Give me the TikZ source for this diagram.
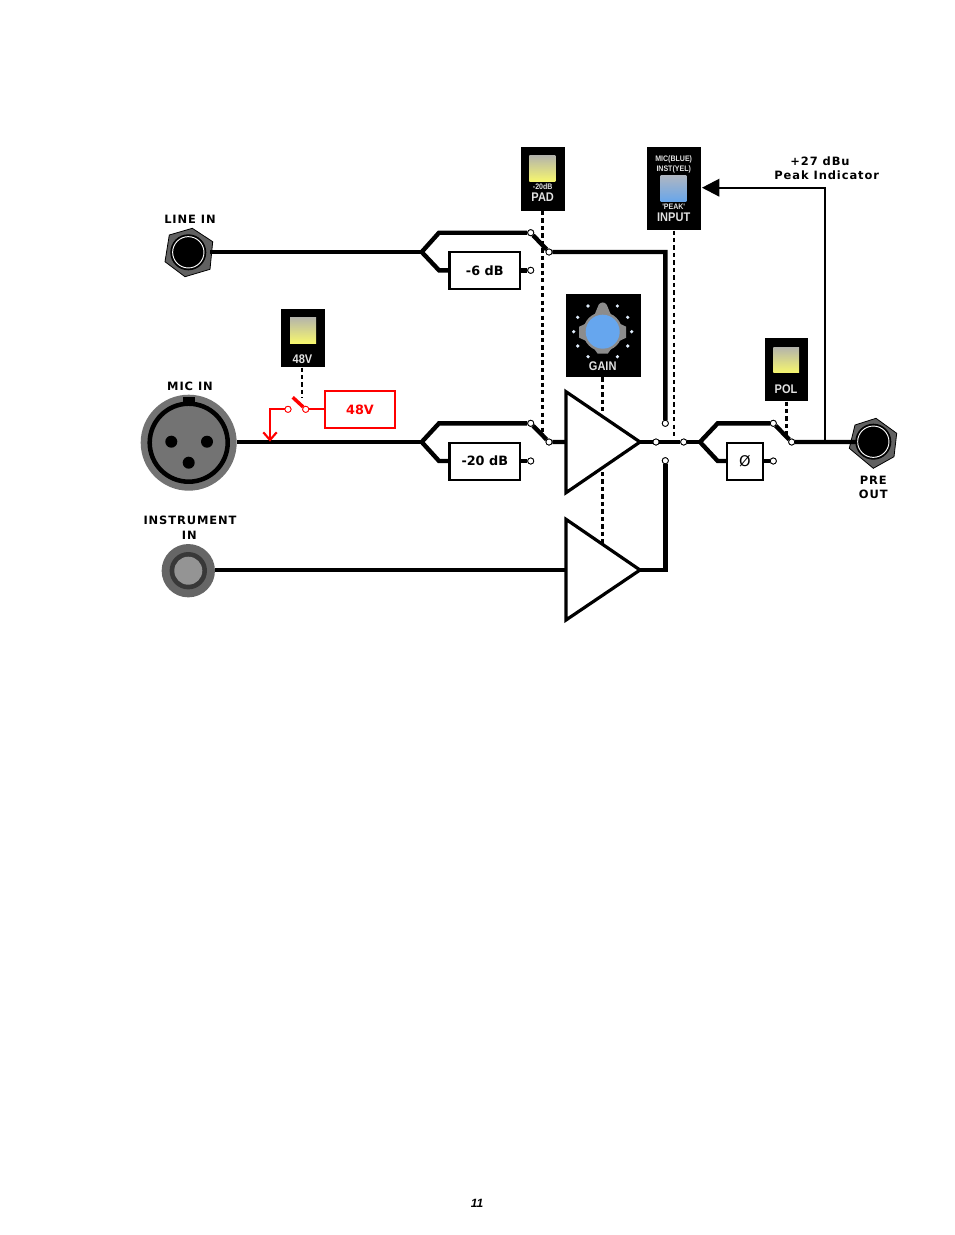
\documentclass[tikz,border=0pt]{standalone}
\usepackage{fontspec}
\setmainfont{DejaVu Sans}
\newfontfamily\lblf[LetterSpace=8]{DejaVu Sans}
\newfontfamily\panelf[FakeStretch=0.88]{Liberation Sans}
\newfontfamily\pagef{Liberation Sans}
\definecolor{lampY}{HTML}{F6F66E}
\definecolor{lampT}{HTML}{B4B4AC}
\definecolor{lampB}{HTML}{69A6EA}
\definecolor{lampBT}{HTML}{AEB6C2}
\definecolor{knob}{HTML}{66A6EE}
\definecolor{panelgray}{HTML}{E2E2E2}
\tikzset{
  x=0.75pt,y=-0.75pt,
  main/.style={line width=3.3pt,line join=miter},
  thinw/.style={line width=1.7pt},
  ctrl/.style={line width=2pt,dash pattern=on 3.2pt off 2.4pt},
  red wire/.style={red,line width=1.6pt},
  dotc/.style={circle,draw=black,fill=white,line width=0.6pt,inner sep=0pt,minimum size=4.6pt},
  reddot/.style={dotc,draw=red},
  fxbox/.style={draw=black,line width=1.7pt,fill=white,inner sep=0pt,outer sep=0pt,anchor=north west,
     font=\fontsize{9.6pt}{9.6pt}\selectfont\bfseries},
  lbl/.style={inner sep=0pt,font=\lblf\fontsize{8.6pt}{8.6pt}\selectfont\bfseries},
  paneltxt/.style={inner sep=0pt,text=panelgray,font=\panelf\fontsize{9.4pt}{9.4pt}\selectfont\bfseries},
  paneltiny/.style={inner sep=0pt,text=panelgray,font=\panelf\bfseries\fontsize{6pt}{6pt}\selectfont},
  tri/.style={draw=black,line width=2.4pt,fill=white,line join=miter},
}
\begin{document}
\begin{tikzpicture}
\useasboundingbox (0,0) rectangle (954,1235);

% ---- control panels ----
\fill[black] (520.7,147) rectangle (564.7,210.7);
\shade[top color=lampT,bottom color=lampY] (529.3,155.3) rectangle (555.3,181.3);
\node[paneltiny] at (542.7,187) {-20dB};
\node[paneltxt] (padlbl) at (542.7,197.3) {PAD};
\coordinate (padbot) at (542.7,211);

\fill[black] (646.7,147) rectangle (701.3,230.3);
\shade[top color=lampBT,bottom color=lampB] (660.7,175.7) rectangle (686.3,201);
\node[paneltiny] at (673.7,159.7) {MIC(BLUE)};
\node[paneltiny] at (673.7,169.7) {INST(YEL)};
\node[paneltiny] at (673.7,206.6) {'PEAK'};
\node[paneltxt] at (673.7,217) {INPUT};
\coordinate (inbot) at (674,230.5);
\coordinate (inright) at (702,187.7);

\fill[black] (281.3,309) rectangle (325.3,367.3);
\shade[top color=lampT,bottom color=lampY] (290,317) rectangle (316,343);
\node[paneltxt] at (302.5,359) {48V};
\coordinate (v48bot) at (302,367.5);

\fill[black] (764.7,337.7) rectangle (808.3,401.3);
\shade[top color=lampT,bottom color=lampY] (773.3,347) rectangle (799,372.7);
\node[paneltxt] at (786,389) {POL};
\coordinate (polbot) at (786.7,401.5);

% gain panel
\fill[black] (566,294.3) rectangle (640.7,377);
\begin{scope}[shift={(602.7,331.7)}]
  \fill[black!45] (0,0) circle[radius=19.5];
  \fill[black!45] (-9,-15) -- (-4,-27) .. controls (-2,-30) and (2,-30) .. (4,-27) -- (9,-15) -- cycle;
  \fill[black!45] (-15,-9) -- (-23.5,-5) -- (-23.5,6) -- (-15,10) -- cycle;
  \fill[black!45] (15,-9) -- (23.5,-5) -- (23.5,6) -- (15,10) -- cycle;
  \fill[black!45] (-10,15) -- (-5,22) -- (5,22) -- (10,15) -- cycle;
  \fill[knob] (0,0) circle[radius=17];
  \foreach \dx/\dy in {-14.7/-25.7,14.7/-25.7,-25/-14.4,25/-14.4,-29/0,29/0,-25/14.3,25/14.3,-14.7/25,14.7/25}
    \fill[white!80!knob] (\dx,\dy) circle[radius=1.8];
\end{scope}
\node[paneltxt] at (602.7,366) {GAIN};
\coordinate (gainbot) at (602.3,377.3);

% ---- junction coordinates ----
\coordinate (lb) at (421.7,252);
\coordinate (lt) at (439,232.7);
\coordinate (ld) at (439,270.3);
\coordinate (mb) at (421.7,442);
\coordinate (mt) at (439,423.3);
\coordinate (md) at (439,461);
\coordinate (pb) at (700,442);
\coordinate (pt) at (717.7,423.3);
\coordinate (pd) at (717.7,461);
\coordinate (peakT) at (825,442);
\coordinate (peakC) at (825,187.7);

% ---- amplifiers ----
\coordinate (a1a) at (566,391.7);
\coordinate (a1b) at (566,492.7);
\coordinate (a1o) at (640,442);
\coordinate (a2a) at (566,519.3);
\coordinate (a2b) at (566,620);
\coordinate (a2o) at (640,570);
\coordinate (a1in) at (566,442);
\coordinate (a2in) at (566,570);

% ---- control dashed lines ----
\coordinate (paden) at (542.7,431.7);
\coordinate (inen) at (674,438);
\coordinate (polen) at (786.7,436);
\coordinate (g1) at (602.3,412);
\coordinate (g2) at (602.3,544);
\draw[ctrl] (padbot) -- (paden);
\draw[ctrl] (inbot) -- (inen);
\draw[ctrl] (polbot) -- (polen);
\draw[tri] (a1a) -- (a1o) -- (a1b) -- cycle;
\draw[tri] (a2a) -- (a2o) -- (a2b) -- cycle;
\draw[ctrl] (gainbot) -- (g1);
\draw[ctrl] (602.3,472) -- (g2);

% ---- fx boxes ----
\node[fxbox,minimum width=52.9pt,minimum height=27.7pt] (b6) at (449.5,252.3) {-6 dB};
\node[fxbox,minimum width=52.9pt,minimum height=27.7pt] (b20) at (449.5,442.7) {-20 dB};
\node[fxbox,minimum width=26.5pt,minimum height=27.7pt,font=\fontsize{11pt}{11pt}\selectfont] (bp) at (727.3,442.7) {Ø};

% ---- contacts ----
\node[dotc] (lc1) at (530.7,232.7) {};
\node[dotc] (lc2) at (530.7,270.3) {};
\node[dotc] (lc3) at (549,252) {};
\node[dotc] (mc1) at (530.7,423.3) {};
\node[dotc] (mc2) at (530.7,461) {};
\node[dotc] (mc3) at (549,442) {};
\node[dotc] (sc1) at (665.3,423.3) {};
\node[dotc] (sc2) at (665.3,460.7) {};
\node[dotc] (sc3) at (656,442) {};
\node[dotc] (sc4) at (683.7,442) {};
\node[dotc] (pc1) at (773.3,423.3) {};
\node[dotc] (pc2) at (773.3,461) {};
\node[dotc] (pc3) at (791.7,442) {};

% ---- jacks ----
\fill[black!62,draw=black,line width=0.6pt] (192.3,228.3) -- (212.7,241.7) -- (210,269.3) -- (185,276.7) -- (165,261.7) -- (169.3,235) -- cycle;
\fill[black] (188.3,252.3) circle[radius=18];
\node[circle,fill=black,draw=white,line width=0.7pt,minimum size=23.5pt,inner sep=0pt] (linej) at (188.3,252.3) {};

\fill[black!62,draw=black,line width=0.6pt] (876,418.3) -- (896.7,433.3) -- (894,456.7) -- (873.3,468.3) -- (849.3,448.3) -- (855,425) -- cycle;
\fill[black] (873.3,441.7) circle[radius=18];
\node[circle,fill=black,draw=white,line width=0.7pt,minimum size=23.5pt,inner sep=0pt] (outj) at (873.3,441.7) {};

\node[circle,fill=black!55,minimum size=72pt,inner sep=0pt] (micj) at (188.7,442.7) {};
\draw[black,line width=3.4pt] (188.7,442.7) circle[radius=39];
\fill[black] (182.7,396.7) rectangle (194.7,406);
\foreach \px/\py in {171.3/441.7,207/441.7,188.7/462.7}
  \fill[black] (\px,\py) circle[radius=6];

\node[circle,fill=black!60,minimum size=40pt,inner sep=0pt] (instj) at (188.3,570.7) {};
\fill[black!78] (188.3,570.7) circle[radius=18.7];
\fill[black!42] (188.3,570.7) circle[radius=14];

% ---- wires ----
\draw[main] (210,252) -- (lb);
\draw[main] (b6.west |- ld) -- (ld) -- (lb) -- (lt) -- (lc1);
\draw[main] (b6.east |- lc2) -- (lc2);
\draw[main] (lc1) -- (lc3) -- (665.3,252) -- (sc1);

\draw[main] (micj.east |- mb) -- (mb);
\draw[main] (b20.west |- md) -- (md) -- (mb) -- (mt) -- (mc1);
\draw[main] (b20.east |- mc2) -- (mc2);
\draw[main] (mc1) -- (mc3) -- (a1in);

\draw[main] (instj.east |- a2in) -- (a2in);
\draw[main] (a2o) -- (665.3,570) -- (sc2);

\draw[main] (a1o) -- (sc4) -- (pb);
\draw[main] (bp.west |- pd) -- (pd) -- (pb) -- (pt) -- (pc1);
\draw[main] (bp.east |- pc2) -- (pc2);
\draw[main] (pc1) -- (pc3) -- (outj.west |- pc3);

% peak indicator
\draw[thinw] (peakT) -- (peakC) -- (719,187.7);
\fill[black] (inright) -- (719.3,178.7) -- (719.3,196.7) -- cycle;

% redraw contacts on top
\foreach \n in {lc1,lc2,lc3,mc1,mc2,mc3,sc1,sc2,sc3,sc4,pc1,pc2,pc3}
  \node[dotc] at (\n) {};

% ---- phantom power ----
\node[draw=red,line width=1.7pt,fill=white,text=red,inner sep=0pt,outer sep=0pt,minimum width=52.5pt,minimum height=27.7pt,font=\fontsize{9.6pt}{9.6pt}\selectfont\bfseries] (b48) at (360,409.8) {48V};
\coordinate (bl) at (292.7,397.3);
\coordinate (bcorner) at (270,409.3);
\coordinate (btip) at (270,440);
\coordinate (barrL) at (263.3,432.3);
\coordinate (barrR) at (276.7,432.3);
\node[reddot] (r1) at (288,409.3) {};
\node[reddot] (r2) at (305.7,409.3) {};
\draw[ctrl] (v48bot) -- (302,398.3);
\draw[red wire] (b48.west |- r2) -- (r2);
\draw[red,line width=2.6pt] (bl) -- (r2);
\draw[red wire] (r1) -- (bcorner) -- (btip);
\draw[red wire] (barrL) -- (btip) -- (barrR);
\node[reddot] at (r1) {};
\node[reddot] at (r2) {};

% ---- labels ----
\node[lbl] at (190,219) {LINE IN};
\node[lbl] at (190,386) {MIC IN};
\node[lbl] at (190,520.7) {INSTRUMENT};
\node[lbl] at (189.3,535) {IN};
\node[lbl] at (873.3,480) {PRE};
\node[lbl] at (873.3,494) {OUT};
\node[lbl] at (820,161.7) {+27 dBu};
\node[lbl] at (826.7,175.7) {Peak Indicator};

\node[inner sep=0pt,font=\pagef\bfseries\itshape\fontsize{9pt}{9pt}\selectfont] at (477,1203) {11};
\end{tikzpicture}
\end{document}
